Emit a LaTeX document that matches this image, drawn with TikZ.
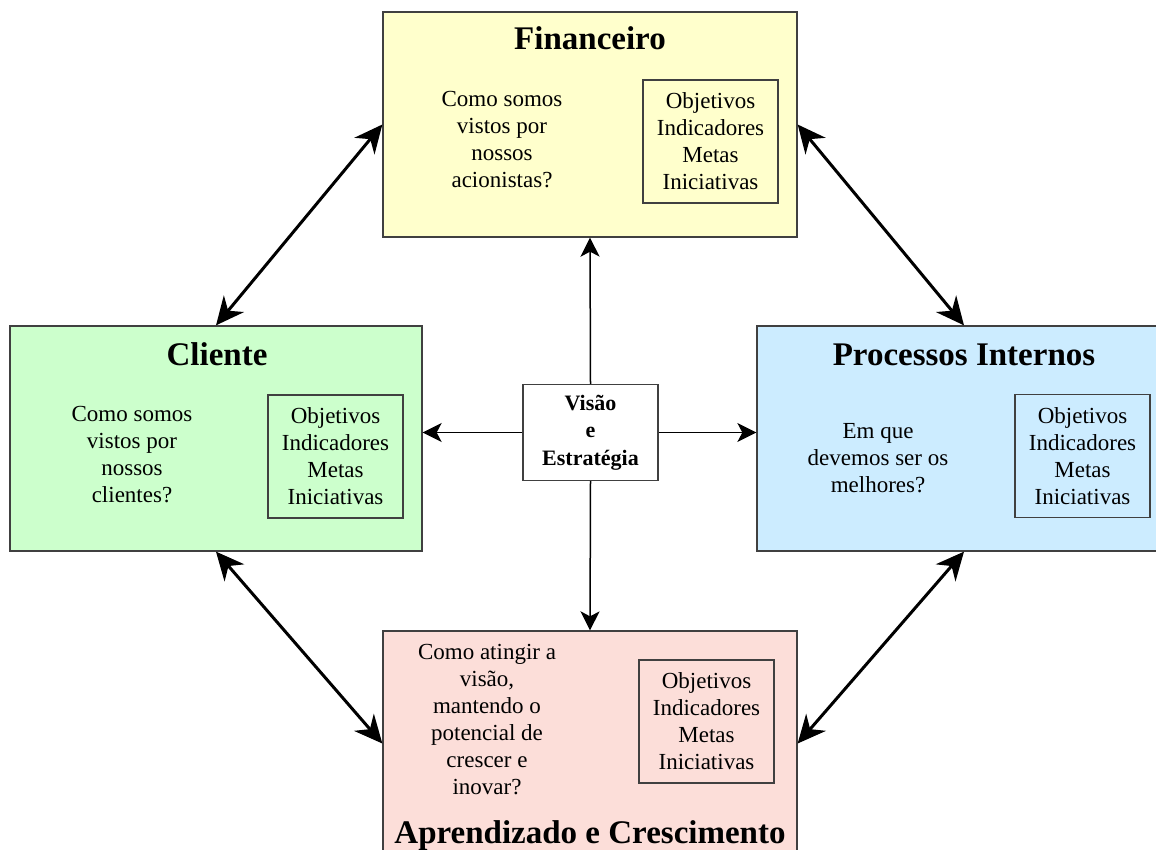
\documentclass[tikz,border=0pt]{standalone}
\usepackage{fontspec}
\setmainfont{Liberation Serif}
\usetikzlibrary{arrows.meta}

\definecolor{edgegray}{HTML}{404040}
\definecolor{finfill}{HTML}{FFFFCC}
\definecolor{clifill}{HTML}{CCFFCC}
\definecolor{profill}{HTML}{CCECFF}
\definecolor{aprfill}{HTML}{FCDED9}

\newcommand{\bodyfont}{\fontsize{23}{27}\selectfont}
\newcommand{\headfont}{\fontsize{33}{38}\selectfont\bfseries}

\tikzset{
  panel/.style={draw=edgegray, line width=1.3pt, minimum width=414pt,
    minimum height=225pt, inner sep=0pt},
  panelhead/.style={anchor=base, font=\headfont, inner sep=0pt},
  % multi-line nodes: the base anchor sits on the last line's baseline
  question/.style={anchor=base, align=center, font=\bodyfont, inner sep=0pt},
  metrics/.style={draw=edgegray, line width=1.2pt, minimum width=135pt,
    minimum height=123pt, align=center, font=\bodyfont, inner sep=0pt},
  core/.style={draw=edgegray, fill=white, line width=1.2pt, minimum width=135pt,
    minimum height=96pt, align=center, inner sep=0pt,
    font=\fontsize{22}{27.5}\selectfont\bfseries},
  bighead/.style={Stealth[length=28pt,width=26pt,inset=9pt]},
  link/.style={line width=3pt, {Stealth[length=28pt,width=26pt,inset=9pt]}-{Stealth[length=28pt,width=26pt,inset=9pt]}},
  spoke/.style={line width=1.5pt, -{Stealth[length=19pt,width=19pt,inset=5pt]}}
}

\begin{document}
\begin{tikzpicture}[x=1pt,y=-1pt]
  \clip (0,0) rectangle (1156,849);
  \fill[white] (0,0) rectangle (1156,849);

  % the four perspectives
  \node[panel, fill=finfill] (fin) at (590,124.5) {};
  \node[panel, fill=clifill, minimum width=412pt] (cli) at (216,438.5) {};
  \node[panel, fill=profill] (pro) at (964,438.5) {};
  \node[panel, fill=aprfill] (apr) at (590,743.5) {};

  % headings
  \node[panelhead] (finhead) at (590,49) {Financeiro};
  \node[panelhead] (clihead) at (217,365) {Cliente};
  \node[panelhead] (prohead) at (964,365) {Processos Internos};
  \node[panelhead] (aprhead) at (590,843) {Aprendizado e Crescimento};

  % guiding questions
  \node[question] (finq) at (502,187) {Como somos\\vistos por\\nossos\\acionistas?};
  \node[question] (cliq) at (132,502) {Como somos\\vistos por\\nossos\\clientes?};
  \node[question] (proq) at (878,492) {Em que\\devemos ser os\\melhores?};
  \node[question] (aprq) at (487,794) {Como atingir a\\visão,\\mantendo o\\potencial de\\crescer e\\inovar?};

  % measures
  \node[metrics] (finm) at (710.5,141.5) {Objetivos\\Indicadores\\Metas\\Iniciativas};
  \node[metrics] (clim) at (335.5,456.5) {Objetivos\\Indicadores\\Metas\\Iniciativas};
  \node[metrics] (prom) at (1082.5,456) {Objetivos\\Indicadores\\Metas\\Iniciativas};
  \node[metrics] (aprm) at (706.5,721.5) {Objetivos\\Indicadores\\Metas\\Iniciativas};

  % vision and strategy at the centre
  \node[core] (vis) at (590.5,432.5) {Visão\\e\\Estratégia};

  % links between neighbouring perspectives
  \draw[link] (fin.west) -- (cli.north);
  \draw[link] (fin.east) -- (pro.north);
  \draw[link] (cli.south) -- (apr.west);
  \draw[link] (pro.south) -- (apr.east);

  % spokes from the centre
  \draw[spoke] (vis.north) -- (fin.south);
  \draw[spoke] (vis.south) -- (apr.north);
  \draw[spoke] (vis.west) -- (vis.west -| cli.east);
  \draw[spoke] (vis.east) -- (vis.east -| pro.west);
\end{tikzpicture}
\end{document}
